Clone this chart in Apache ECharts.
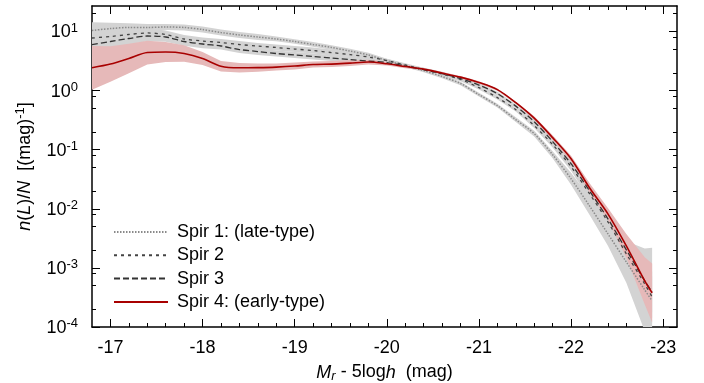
<!DOCTYPE html>
<html>
<head>
<meta charset="utf-8">
<script src="https://cdn.jsdelivr.net/npm/echarts@6/dist/echarts.min.js"></script>
<style>
  html, body { margin: 0; padding: 0; background: #fff; }
  #lf-chart { width: 704px; height: 383px; }
</style>
</head>
<body>
<div id="lf-chart"></div>
<script>
// absolute magnitude grid (M_r - 5log h)
const mags = [-16.8, -17.0, -17.2, -17.4, -17.6, -17.8, -18.0, -18.2, -18.4, -18.6,
  -18.8, -19.0, -19.2, -19.4, -19.6, -19.8, -20.0, -20.2, -20.4, -20.6,
  -20.8, -21.0, -21.2, -21.4, -21.6, -21.8, -22.0, -22.2, -22.4, -22.6,
  -22.8, -22.88];

// n(L)/N per class
const spir1 = [10.4, 11.2, 11.7, 11.7, 11.9, 11.7, 10.8, 9.6, 8.73, 8.07,
  7.47, 6.77, 6.03, 5.36, 4.67, 4.0, 3.22, 2.65, 2.18, 1.73,
  1.32, 0.855, 0.557, 0.322, 0.187, 0.0823, 0.0322, 0.0112, 0.00377, 0.00126,
  0.000424, 0.000276];
const spir2 = [7.76, 8.22, 8.89, 9.44, 8.89, 7.46, 6.9, 6.51, 6.02, 5.68,
  5.36, 5.05, 4.76, 4.4, 4.07, 3.7, 3.22, 2.71, 2.27, 1.9,
  1.54, 1.12, 0.76, 0.476, 0.255, 0.122, 0.0515, 0.018, 0.00602, 0.00173,
  0.000535, 0.000322];
const spir3 = [6.02, 6.77, 7.61, 8.39, 8.07, 6.77, 6.14, 5.68, 4.95, 4.58,
  4.24, 4.0, 3.77, 3.56, 3.35, 3.16, 2.98, 2.6, 2.27, 1.94,
  1.6, 1.24, 0.889, 0.546, 0.298, 0.137, 0.0579, 0.0202, 0.00677, 0.00202,
  0.000603, 0.000392];
const spir4 = [2.43, 2.81, 3.49, 4.4, 4.49, 4.24, 3.49, 2.58, 2.43, 2.45,
  2.5, 2.6, 2.76, 2.81, 2.92, 3.04, 2.84, 2.55, 2.31, 1.98,
  1.69, 1.37, 1.04, 0.626, 0.342, 0.16, 0.0704, 0.0227, 0.00822, 0.00236,
  0.000603, 0.000377];

// half width of the shaded error bands (dex)
const spread1 = [0.14, 0.1, 0.07, 0.06, 0.05, 0.05, 0.05, 0.05, 0.05, 0.05,
  0.04, 0.04, 0.04, 0.04, 0.04, 0.04, 0.03, 0.03, 0.03, 0.03,
  0.03, 0.03, 0.03, 0.04, 0.05, 0.06, 0.1, 0.15, 0.2, 0.35, 0.7, 0.9];
const spread2 = [0.12, 0.1, 0.08, 0.08, 0.07, 0.07, 0.06, 0.06, 0.06, 0.05,
  0.05, 0.05, 0.05, 0.05, 0.04, 0.04, 0.03, 0.03, 0.03, 0.03,
  0.03, 0.03, 0.03, 0.03, 0.04, 0.05, 0.07, 0.1, 0.14, 0.2, 0.3, 0.35];
const spread3 = [0.14, 0.12, 0.1, 0.09, 0.08, 0.07, 0.07, 0.06, 0.06, 0.06,
  0.05, 0.05, 0.05, 0.05, 0.05, 0.04, 0.03, 0.03, 0.03, 0.03,
  0.03, 0.03, 0.03, 0.03, 0.04, 0.05, 0.07, 0.1, 0.14, 0.2, 0.3, 0.35];
const spread4 = [0.37, 0.3, 0.25, 0.2, 0.17, 0.14, 0.11, 0.09, 0.08, 0.07,
  0.06, 0.06, 0.05, 0.05, 0.05, 0.04, 0.03, 0.03, 0.02, 0.02,
  0.02, 0.02, 0.02, 0.02, 0.03, 0.04, 0.05, 0.08, 0.1, 0.2, 0.4, 0.5];

const names = ['Spir 1: (late-type)', 'Spir 2', 'Spir 3', 'Spir 4: (early-type)'];

const xMajor = [-17, -18, -19, -20, -21, -22, -23];
const xMinor = [-17.2, -17.4, -17.6, -17.8, -18.2, -18.4, -18.6, -18.8,
  -19.2, -19.4, -19.6, -19.8, -20.2, -20.4, -20.6, -20.8,
  -21.2, -21.4, -21.6, -21.8, -22.2, -22.4, -22.6, -22.8];
const yMajor = [1e-4, 1e-3, 1e-2, 1e-1, 1, 10];
const yMinor = [2e-4, 5e-4, 8e-4, 2e-3, 5e-3, 8e-3, 2e-2, 5e-2, 8e-2,
  0.2, 0.5, 0.8, 2, 5, 8, 20];

const FONT = '"Liberation Sans", Arial, sans-serif';

document.addEventListener('DOMContentLoaded', () => {
  const chart = echarts.init(document.getElementById('lf-chart'), null, { renderer: 'canvas' });

  const frame = { show: true, lineStyle: { color: '#000', width: 1.5 } };

  const xBase = (position, values, len, extra) => Object.assign({
    type: 'value',
    position,
    inverse: true,
    min: -23.15,
    max: -16.8,
    splitLine: { show: false },
    axisLine: { show: false },
    axisLabel: { show: false },
    axisTick: { show: true, inside: true, length: len, customValues: values,
      lineStyle: { color: '#000', width: 1 } }
  }, extra || {});

  const yBase = (position, values, len, extra) => Object.assign({
    type: 'log',
    logBase: 10,
    position,
    min: 1e-4,
    max: 27,
    splitLine: { show: false },
    axisLine: { show: false },
    axisLabel: { show: false },
    axisTick: { show: true, inside: true, length: len, customValues: values,
      lineStyle: { color: '#000', width: 1 } }
  }, extra || {});

  const bandSeries = (vals, spread, color) => {
    const pts = mags.map((m, i) => [m, vals[i] / Math.pow(10, spread[i]), vals[i] * Math.pow(10, spread[i])]);
    return {
      type: 'custom',
      data: pts,
      clip: true,
      silent: true,
      z: 1,
      encode: { x: 0, y: [1, 2] },
      renderItem: (params, api) => {
        if (params.dataIndex !== 0) return null;
        const top = pts.map(p => api.coord([p[0], p[2]]));
        const bot = pts.map(p => api.coord([p[0], p[1]])).reverse();
        return {
          type: 'polygon',
          shape: { points: top.concat(bot) },
          style: { fill: color, stroke: null }
        };
      }
    };
  };

  const lineSeries = (name, vals, color, type, width) => ({
    name,
    type: 'line',
    data: mags.map((m, i) => [m, vals[i]]),
    smooth: 0.3,
    symbol: 'none',
    z: 3,
    lineStyle: { color, type, width },
    itemStyle: { color }
  });

  const option = {
    animation: false,
    textStyle: { fontFamily: FONT },
    grid: { left: 92, right: 27, top: 6, bottom: 56, outerBoundsMode: 'none' },
    legend: {
      data: names,
      orient: 'vertical',
      left: 108,
      top: 218,
      itemWidth: 54,
      itemHeight: 14,
      itemGap: 5.3,
      itemStyle: { opacity: 0 },
      textStyle: { fontSize: 18, color: '#000', fontFamily: FONT, padding: [0, 0, 0, 4] }
    },
    xAxis: [
      xBase('bottom', xMajor, 8, {
        axisLine: frame,
        axisLabel: {
          show: true, customValues: xMajor, margin: 12,
          fontSize: 18, color: '#000', fontFamily: FONT,
          formatter: v => String(v)
        },
        name: '{i|M}{sub|r}{r| - 5log}{i|h}{r|  (mag)}',
        nameLocation: 'middle',
        nameGap: 35,
        nameTextStyle: {
          rich: {
            i: { fontSize: 18, fontStyle: 'italic', fontFamily: FONT, color: '#000' },
            r: { fontSize: 18, fontFamily: FONT, color: '#000' },
            sub: { fontSize: 13, fontStyle: 'italic', fontFamily: FONT, color: '#000',
              verticalAlign: 'top', padding: [8, 0, 0, 0] }
          }
        }
      }),
      xBase('bottom', xMinor, 4),
      xBase('top', xMajor, 8, { axisLine: frame }),
      xBase('top', xMinor, 4)
    ],
    yAxis: [
      yBase('left', yMajor, 8, {
        axisLine: frame,
        axisLabel: {
          show: true, customValues: yMajor, margin: 14,
          formatter: v => '{b|10}{s|' + Math.round(Math.log10(v)) + '}',
          rich: {
            b: { fontSize: 18, fontFamily: FONT, color: '#000', verticalAlign: 'bottom' },
            s: { fontSize: 13, fontFamily: FONT, color: '#000', verticalAlign: 'bottom',
              padding: [0, 0, 7, 0] }
          }
        },
        name: '{i|n}{r|(}{i|L}{r|)/}{i|N}{r|  [(mag)}{s|-1}{r|]}',
        nameLocation: 'middle',
        nameGap: 58,
        nameTextStyle: {
          rich: {
            i: { fontSize: 18, fontStyle: 'italic', fontFamily: FONT, color: '#000', verticalAlign: 'bottom' },
            r: { fontSize: 18, fontFamily: FONT, color: '#000', verticalAlign: 'bottom' },
            s: { fontSize: 13, fontFamily: FONT, color: '#000', verticalAlign: 'bottom',
              padding: [0, 0, 7, 0] }
          }
        }
      }),
      yBase('left', yMinor, 4),
      yBase('right', yMajor, 8, { axisLine: frame }),
      yBase('right', yMinor, 4)
    ],
    series: [
      bandSeries(spir1, spread1, '#d3d3d3'),
      bandSeries(spir2, spread2, '#d3d3d3'),
      bandSeries(spir3, spread3, '#d3d3d3'),
      bandSeries(spir4, spread4, '#e6b9b9'),
      lineSeries(names[0], spir1, '#8a8a8a', [1.5, 1.5], 1.5),
      lineSeries(names[1], spir2, '#444444', [3, 4], 1.3),
      lineSeries(names[2], spir3, '#333333', [6, 3], 1.3),
      lineSeries(names[3], spir4, '#a80000', 'solid', 1.6)
    ]
  };

  chart.setOption(option);
});
</script>
</body>
</html>
